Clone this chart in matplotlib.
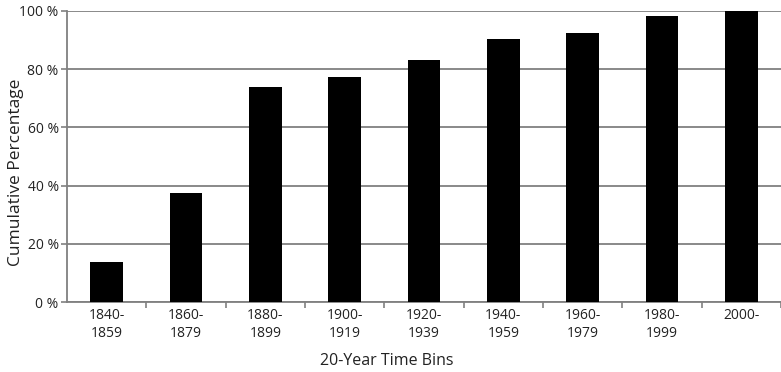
import matplotlib
matplotlib.use("Agg")
import matplotlib.pyplot as plt
import numpy as np

plt.rcParams['font.family'] = ['Open Sans', 'DejaVu Sans']

bins = ["1840-\n1859", "1860-\n1879", "1880-\n1899", "1900-\n1919", "1920-\n1939",
        "1940-\n1959", "1960-\n1979", "1980-\n1999", "2000-"]
cumulative_pct = [13.7, 37.5, 73.9, 77.3, 83.2, 90.4, 92.4, 98.2, 100.0]
y_ticks = [0, 20, 40, 60, 80, 100]
y_tick_labels = ["0 %", "20 %", "40 %", "60 %", "80 %", "100 %"]

W, H = 781, 372
fig = plt.figure(figsize=(W / 100, H / 100), dpi=100)
left, right, top, bottom = 67, 781, 11, 302
ax = fig.add_axes([left / W, 1 - bottom / H, (right - left) / W, (bottom - top) / H])

x = np.arange(len(bins))
ax.bar(x, cumulative_pct, width=0.41, color="black", zorder=3)

ax.set_ylim(0, 100)
# each category spans 80 px; the axis runs slightly past the right edge
ax.set_xlim(-0.5, -0.5 + (right - left) / 80)

ax.set_yticks(y_ticks)
ax.set_yticklabels(y_tick_labels)
ax.yaxis.grid(True, color="#808080", linewidth=1.3, zorder=0)
ax.set_axisbelow(True)

ax.set_xticks(x)
ax.set_xticklabels(bins, linespacing=1.3)
ax.set_xticks(np.arange(len(bins)) + 0.5, minor=True)
ax.tick_params(axis="x", which="major", length=0, pad=4, labelsize=10, colors="#222222")
ax.tick_params(axis="x", which="minor", length=4, width=1.2, color="#808080", direction="out")
ax.tick_params(axis="y", length=4, width=1.2, color="#808080", labelsize=10,
               labelcolor="#222222", pad=2)

for side in ("top", "right"):
    ax.spines[side].set_visible(False)
for side in ("left", "bottom"):
    ax.spines[side].set_color("#808080")
    ax.spines[side].set_linewidth(1.3)

fig.text(16 / W, 1 - 172 / H, "Cumulative Percentage", rotation=90, fontsize=12.5,
         color="#222222", ha="center", va="center")
fig.text(387 / W, 1 - 361 / H, "20-Year Time Bins", fontsize=11.5,
         color="#222222", ha="center", va="center")

fig.savefig("out.png", dpi=100)
